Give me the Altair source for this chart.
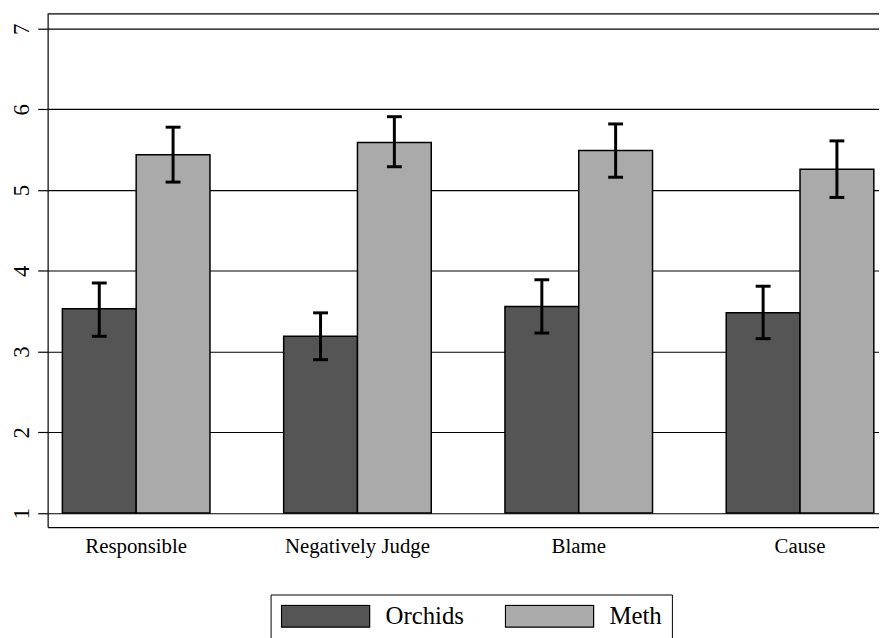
import altair as alt
import pandas as pd

categories = ["Responsible", "Negatively Judge", "Blame", "Cause"]
series = ["Orchids", "Meth"]

orchids_mean = [3.53, 3.19, 3.56, 3.48]
orchids_lo = [3.19, 2.90, 3.23, 3.16]
orchids_hi = [3.85, 3.48, 3.89, 3.81]

meth_mean = [5.44, 5.59, 5.49, 5.26]
meth_lo = [5.10, 5.29, 5.16, 4.91]
meth_hi = [5.78, 5.91, 5.82, 5.61]

y_ticks = [1, 2, 3, 4, 5, 6, 7]

rows = []
for i, c in enumerate(categories):
    rows.append(dict(cat=c, grp="Orchids", mean=orchids_mean[i], lo=orchids_lo[i], hi=orchids_hi[i]))
    rows.append(dict(cat=c, grp="Meth", mean=meth_mean[i], lo=meth_lo[i], hi=meth_hi[i]))
df = pd.DataFrame(rows)

FONT = "Liberation Serif"
W, H = 839, 518

x = alt.X(
    "cat:N", sort=categories, title=None,
    scale=alt.Scale(paddingInner=0.333, paddingOuter=0.045, align=0.74),
    axis=alt.Axis(labelAngle=0, labelFont=FONT, labelFontSize=21, labelColor="black",
                  ticks=False, labelPadding=9, domainColor="black", domainWidth=1.2, grid=False),
)
xo = alt.XOffset("grp:N", sort=series, scale=alt.Scale(paddingInner=0, paddingOuter=0))
yscale = alt.Scale(domain=[0.826, 7.184], nice=False, zero=False)
yaxis = alt.Axis(values=y_ticks, labelAngle=270, labelBaseline="alphabetic", labelFont=FONT,
                 labelFontSize=23, labelColor="black",
                 tickSize=10, tickColor="black", tickWidth=1.2, labelPadding=9, grid=True, gridColor="black",
                 gridWidth=1.2, gridOpacity=1, domainColor="black", domainWidth=1.2, title=None)

color = alt.Color(
    "grp:N", sort=series,
    scale=alt.Scale(domain=series, range=["#555555", "#aaaaaa"]),
    legend=alt.Legend(
        title=None, orient="none", legendX=225, legendY=586, direction="horizontal",
        symbolType="M-1,-0.247H1V0.247H-1Z", symbolSize=7921,
        symbolStrokeColor="black", symbolStrokeWidth=1.2, symbolOpacity=1,
        labelFont=FONT, labelFontSize=25, labelColor="black", labelOffset=15,
        columnPadding=40, padding=10, strokeColor="black", clipHeight=24,
    ),
)

base = alt.Chart(df)

bars = base.mark_bar(stroke="black", strokeWidth=1.5, opacity=1).encode(
    x=x, xOffset=xo,
    y=alt.Y("mean:Q", scale=yscale, axis=yaxis),
    y2=alt.datum(1),
    color=color,
)

err = base.mark_rule(color="black", strokeWidth=3).encode(
    x=x, xOffset=xo,
    y=alt.Y("lo:Q", scale=yscale, axis=yaxis),
    y2="hi:Q",
)

caps = base.transform_fold(["lo", "hi"], as_=["end", "val"]).mark_tick(
    color="black", size=15, thickness=3, opacity=1
).encode(
    x=x, xOffset=xo,
    y=alt.Y("val:Q", scale=yscale, axis=yaxis),
)

frame_top = alt.Chart(pd.DataFrame({"a": [0]})).mark_rule(color="black", strokeWidth=1.2).encode(
    x=alt.value(0), x2=alt.value(W), y=alt.value(0)
)

chart = alt.layer(bars, err, caps, frame_top).properties(
    width=W, height=H,
    autosize=alt.AutoSizeParams(type="none"),
    padding={"left": 40, "top": 3, "right": 0, "bottom": 109},
    background="white",
).configure_view(stroke=None)

chart.save("out.html", embed_options={"renderer": "svg", "actions": False})
